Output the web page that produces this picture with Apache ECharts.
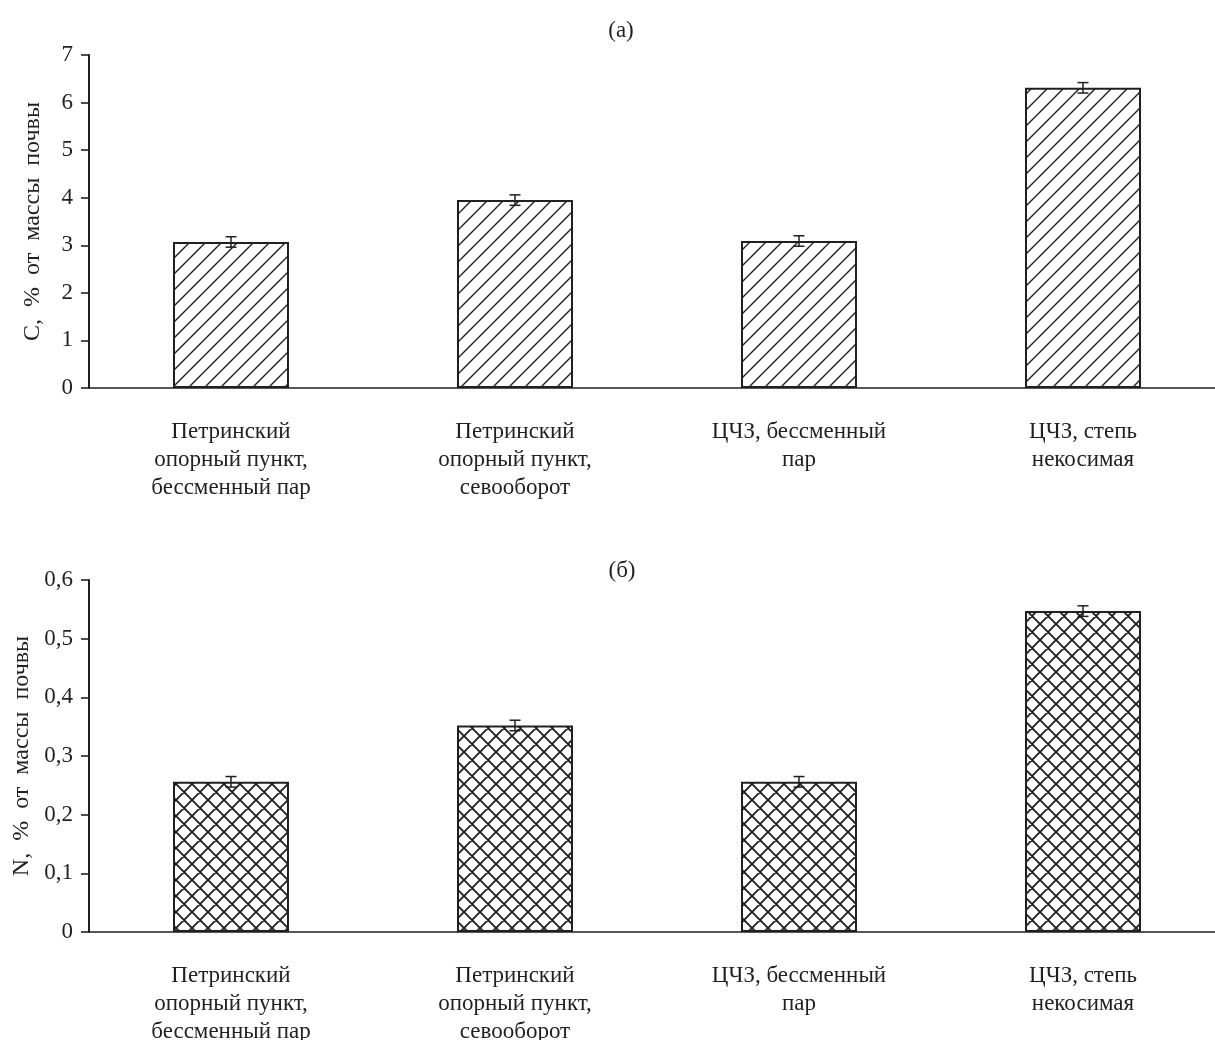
<!DOCTYPE html>
<html>
<head>
<meta charset="utf-8">
<script src="https://cdn.jsdelivr.net/npm/echarts@6/dist/echarts.min.js"></script>
<style>
html,body{margin:0;padding:0;background:#fff;}
#chart{width:1215px;height:1040px;}
</style>
</head>
<body>
<div id="chart"></div>
<script>
const categories = [
  'Петринский\nопорный пункт,\nбессменный пар',
  'Петринский\nопорный пункт,\nсевооборот',
  'ЦЧЗ, бессменный\nпар',
  'ЦЧЗ, степь\nнекосимая'
];
const carbonValues = [3.07, 3.95, 3.09, 6.31];
const carbonErrors = [0.11, 0.11, 0.11, 0.11];
const nitrogenValues = [0.256, 0.352, 0.256, 0.547];
const nitrogenErrors = [0.009, 0.009, 0.009, 0.009];
const carbonTicks = { min: 0, max: 7, interval: 1 };
const nitrogenTicks = { min: 0, max: 0.6, interval: 0.1 };
const panelTitles = ['(а)', '(б)'];
const axisNames = ['C,  %  от  массы  почвы', 'N,  %  от  массы  почвы'];

const INK = '#231f20';
const FONT = '"Liberation Serif", "DejaVu Serif", serif';

function makePattern(cross) {
  const s = 16;
  const c = document.createElement('canvas');
  c.width = s; c.height = s;
  const g = c.getContext('2d');
  g.fillStyle = '#fff';
  g.fillRect(0, 0, s, s);
  g.strokeStyle = INK;
  g.lineWidth = cross ? 1.9 : 1.4;
  g.lineCap = 'square';
  g.beginPath();
  g.moveTo(-2, s + 2); g.lineTo(s + 2, -2);
  g.moveTo(-2, 2); g.lineTo(2, -2);
  g.moveTo(s - 2, s + 2); g.lineTo(s + 2, s - 2);
  if (cross) {
    g.moveTo(-2, -2); g.lineTo(s + 2, s + 2);
    g.moveTo(s - 2, -2); g.lineTo(s + 2, 2);
    g.moveTo(-2, s - 2); g.lineTo(2, s + 2);
  }
  g.stroke();
  return c;
}

function errData(vals, errs) {
  return vals.map((v, i) => [i, v - errs[i], v + errs[i]]);
}

function renderErr(params, api) {
  const x = api.value(0);
  const lo = api.coord([x, api.value(1)]);
  const hi = api.coord([x, api.value(2)]);
  const hw = 5.5;
  const st = { stroke: INK, lineWidth: 1.5 };
  return {
    type: 'group',
    children: [
      { type: 'line', shape: { x1: lo[0], y1: lo[1], x2: hi[0], y2: hi[1] }, style: st },
      { type: 'line', shape: { x1: lo[0] - hw, y1: lo[1], x2: lo[0] + hw, y2: lo[1] }, style: st },
      { type: 'line', shape: { x1: hi[0] - hw, y1: hi[1], x2: hi[0] + hw, y2: hi[1] }, style: st }
    ]
  };
}

function fmtN(v) {
  if (v === 0) return '0';
  return v.toFixed(1).replace('.', ',');
}

const grids = [
  { left: 89, width: 1136, top: 55, height: 333, containLabel: false, outerBoundsMode: 'none' },
  { left: 89, width: 1136, top: 580, height: 352, containLabel: false, outerBoundsMode: 'none' }
];

function xAxis(gi) {
  return {
    type: 'category', gridIndex: gi, data: categories, boundaryGap: true,
    axisLine: { lineStyle: { color: INK, width: 1.6 } },
    axisTick: { show: false },
    axisLabel: { color: INK, fontFamily: FONT, fontSize: 23, lineHeight: 28, margin: 30, interval: 0 }
  };
}
function yAxis(gi, t, name, fmt) {
  return {
    type: 'value', gridIndex: gi, min: t.min, max: t.max, interval: t.interval,
    name: name, nameLocation: 'middle', nameGap: 44, nameRotate: 90,
    nameTextStyle: { color: INK, fontFamily: FONT, fontSize: 24 },
    splitLine: { show: false },
    axisLine: { show: true, lineStyle: { color: INK, width: 2 } },
    axisTick: { show: true, length: 8, inside: false, lineStyle: { color: INK, width: 1.6 } },
    axisLabel: { color: INK, fontFamily: FONT, fontSize: 23, margin: 16, formatter: fmt }
  };
}

const chart = echarts.init(document.getElementById('chart'), null, { renderer: 'canvas' });
chart.setOption({
  animation: false,
  backgroundColor: '#fff',
  title: [
    { text: panelTitles[0], left: 616, top: 14, textAlign: 'center', textStyle: { color: INK, fontFamily: FONT, fontSize: 23, fontWeight: 'normal' } },
    { text: panelTitles[1], left: 617, top: 554, textAlign: 'center', textStyle: { color: INK, fontFamily: FONT, fontSize: 23, fontWeight: 'normal' } }
  ],
  grid: grids,
  xAxis: [xAxis(0), xAxis(1)],
  yAxis: [
    yAxis(0, carbonTicks, axisNames[0], v => String(v)),
    yAxis(1, nitrogenTicks, axisNames[1], fmtN)
  ],
  series: [
    {
      type: 'bar', xAxisIndex: 0, yAxisIndex: 0, data: carbonValues, barWidth: 116,
      itemStyle: { color: { image: makePattern(false), repeat: 'repeat' }, borderColor: INK, borderWidth: 2 }
    },
    {
      type: 'custom', xAxisIndex: 0, yAxisIndex: 0, data: errData(carbonValues, carbonErrors),
      renderItem: renderErr, z: 10
    },
    {
      type: 'bar', xAxisIndex: 1, yAxisIndex: 1, data: nitrogenValues, barWidth: 116,
      itemStyle: { color: { image: makePattern(true), repeat: 'repeat' }, borderColor: INK, borderWidth: 2 }
    },
    {
      type: 'custom', xAxisIndex: 1, yAxisIndex: 1, data: errData(nitrogenValues, nitrogenErrors),
      renderItem: renderErr, z: 10
    }
  ]
});
</script>
</body>
</html>
